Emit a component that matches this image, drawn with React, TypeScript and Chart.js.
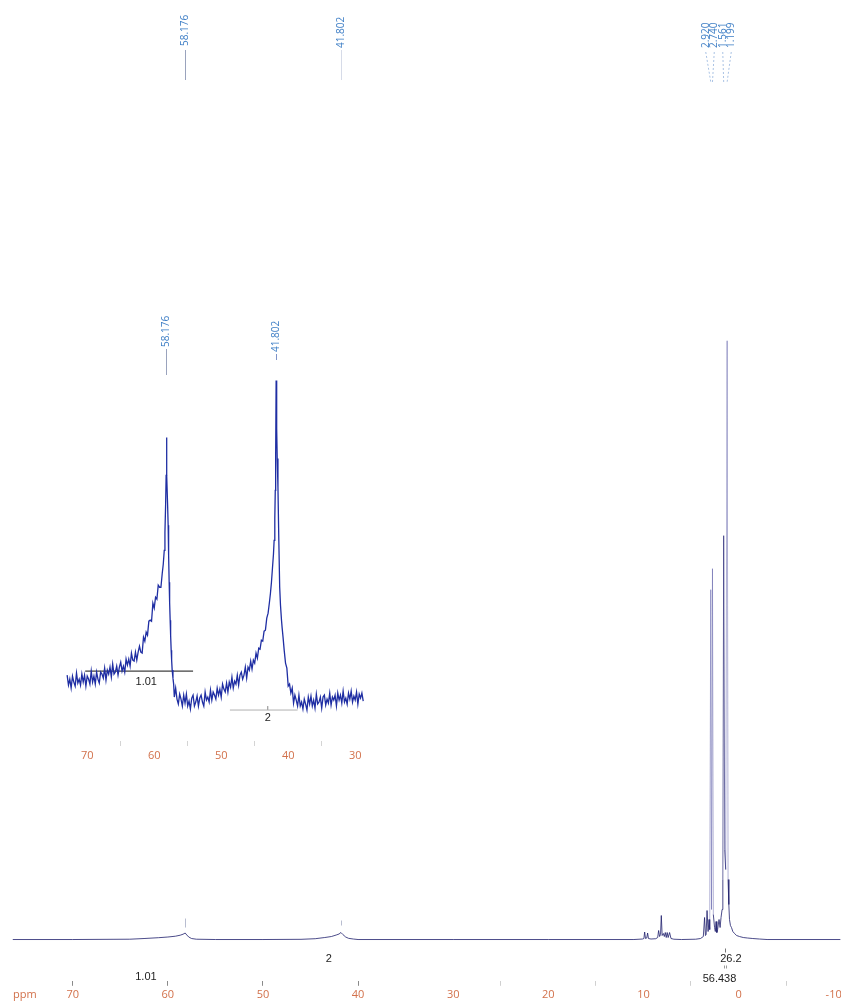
import React, { useEffect, useRef } from "react";
import { Chart, registerables } from "chart.js";
Chart.register(...registerables);

// ---------- main 1D spectrum (ppm / intensity) ----------
const mainPpm = [76.3, 70, 64, 62.5, 61, 60, 59.2, 58.7, 58.4, 58.176, 58.0, 57.8, 57.5, 57.0, 55, 50, 46, 44.5, 43.5, 42.8, 42.3, 42.0, 41.802, 41.6, 41.3, 41.0, 40.5, 40.0, 30, 20, 11, 10.1, 9.95, 9.87, 9.78, 9.65, 9.56, 9.47, 9.2, 8.7, 8.5, 8.4, 8.3, 8.2, 8.12, 8.03, 7.9, 7.8, 7.7, 7.6, 7.5, 7.4, 7.25, 7.1, 6.8, 6.0, 4.5, 4.0, 3.7, 3.57, 3.48, 3.41, 3.31, 3.2, 3.1, 3.03, 2.92, 2.84, 2.74, 2.65, 2.52, 2.44, 2.36, 2.28, 2.2, 2.05, 1.94, 1.84, 1.73, 1.65, 1.561, 1.45, 1.35, 1.199, 1.1, 1.02, 0.95, 0.85, 0.74, 0.6, 0.42, 0.2, -0.1, -0.5, -0.95, -1.5, -2.2, -3, -10.73];
const mainInt = [0, 0, 0.3, 1, 1.8, 2.5, 3.3, 4.3, 5.3, 6.5, 4.5, 2.5, 1, 0.3, 0, 0, 0.2, 0.8, 2, 3, 4.5, 5.5, 7, 5, 2.5, 1.2, 0.5, 0, 0, 0, 0, 0.5, 1, 7.5, 1, 1.5, 6.5, 1, 0.5, 0.8, 2, 9, 3, 5, 24, 4, 6, 3, 7, 2, 7, 2, 7, 1, 0.3, 0, 0.3, 1, 3, 22, 4, 5, 29, 8, 20, 10, 350, 30, 371, 25, 12, 8, 18, 7, 10, 20, 12, 22, 30, 60, 404, 90, 70, 599, 60, 35, 20, 14, 12, 8, 6, 4, 3, 2, 1.5, 1, 0.5, 0, 0];

const mainTicks = [70, 60, 50, 40, 30, 20, 10, 0, -10];
const mainPeakLabels = [58.176, 41.802];
const clusterPeakLabels = [2.92, 2.74, 1.561, 1.199];
const strongPeak = 1.561; // drawn with full colour in the reference
const mainIntegralText = ["1.01", "2", "26.2", "56.438"];
const mainIntegralPpm = [62.3, 43.07, 0.8, 2.0];
const mainIntegralLevel = [-37, -19, -19, -39];

// ---------- inset (expanded region 73 - 29 ppm) ----------
const insetPpm = [
  73.0, 72.8, 72.6, 72.4, 72.2, 72.0, 71.8, 71.6, 71.4, 71.2, 71.0, 70.8, 70.6, 70.4, 70.2, 70.0, 69.8, 69.6, 69.4, 69.2,
  69.0, 68.8, 68.6, 68.4, 68.2, 68.0, 67.8, 67.6, 67.4, 67.2, 67.0, 66.8, 66.6, 66.4, 66.2, 66.0, 65.8, 65.6, 65.4, 65.2,
  65.0, 64.8, 64.6, 64.4, 64.2, 64.0, 63.8, 63.6, 63.4, 63.2, 63.0, 62.8, 62.6, 62.4, 62.2, 62.0, 61.8, 61.6, 61.4, 61.2,
  61.0, 60.8, 60.6, 60.4, 60.2, 60.0, 59.8, 59.6, 59.4, 59.2, 59.0,
  58.8, 58.65, 58.5, 58.4, 58.3, 58.22, 58.176, 58.1, 58.0, 57.92, 57.85, 57.77, 57.7, 57.62, 57.55, 57.47, 57.4, 57.32, 57.2, 57.1,
  57.0, 56.8, 56.6, 56.4, 56.2, 56.0, 55.8, 55.6, 55.4, 55.2, 55.0, 54.8, 54.6, 54.4, 54.2, 54.0, 53.8, 53.6, 53.4, 53.2,
  53.0, 52.8, 52.6, 52.4, 52.2, 52.0, 51.8, 51.6, 51.4, 51.2, 51.0, 50.8, 50.6, 50.4, 50.2, 50.0, 49.8, 49.6, 49.4, 49.2,
  49.0, 48.8, 48.6, 48.4, 48.2, 48.0, 47.8, 47.6, 47.4, 47.2, 47.0, 46.8, 46.6, 46.4, 46.2, 46.0, 45.8, 45.6, 45.4, 45.2,
  45.0, 44.8, 44.6, 44.4, 44.2, 44.0, 43.8, 43.6, 43.4, 43.2, 43.0, 42.8,
  42.65, 42.5, 42.35, 42.2, 42.1, 42.0, 41.93, 41.87, 41.802, 41.72, 41.64, 41.53, 41.4, 41.27, 41.15, 41.0, 40.9, 40.77,
  40.6, 40.4, 40.2, 40.0, 39.8, 39.6, 39.4, 39.2, 39.0, 38.8, 38.6, 38.4, 38.2, 38.0, 37.8, 37.6, 37.4, 37.2, 37.0, 36.8,
  36.6, 36.4, 36.2, 36.0, 35.8, 35.6, 35.4, 35.2, 35.0, 34.8, 34.6, 34.4, 34.2, 34.0, 33.8, 33.6, 33.4, 33.2, 33.0, 32.8,
  32.6, 32.4, 32.2, 32.0, 31.8, 31.6, 31.4, 31.2, 31.0, 30.8, 30.6, 30.4, 30.2, 30.0, 29.8, 29.6, 29.4, 29.2, 29.0, 28.8,
];
const insetInt = [
  15, 5, 11, 2, 14, 8, 4, 17, 7, 11, 5, 16, 8, 15, 4, 14, 11, 6, 19, 8,
  14, 6, 18, 11, 7, 18, 16, 12, 22, 10, 20, 16, 23, 13, 26, 16, 18, 24, 15, 23,
  28, 19, 24, 18, 31, 25, 31, 24, 37, 30, 29, 38, 30, 38, 44, 38, 37, 53, 49, 58,
  55, 69, 70, 69, 87, 82, 93, 91, 105, 103, 103,
  117, 126, 140, 158, 185, 215, 253, 215, 185, 165, 135, 108, 88, 70, 55, 40, 30, 20, 12, 6,
  -7, 2, -9, -14, -4, -9, -16, -5, -13, -4, -16, -11, -19, -8, -5, -16, -12, -6, -16, -8,
  -5, -12, -16, -2, -10, -7, -12, 0, -10, -2, -5, -9, 2, -5, 1, -7, 6, 1, -2, 7,
  -2, 8, 3, 13, 2, 9, 6, 15, 5, 15, 18, 11, 15, 23, 12, 23, 20, 29, 21, 30,
  27, 37, 32, 42, 41, 50, 49, 59, 60, 72, 77, 88,
  97, 108, 122, 136, 150, 172, 200, 235, 310, 262, 232, 203, 150, 103, 85, 70, 62, 53,
  40, 27, 22, 4, 6, -3, 2, -13, -5, -10, -16, -5, -16, -12, -19, -9, -14, -20, -7, -14,
  -6, -16, -10, -18, -4, -14, -12, -7, -18, -7, -5, -15, -9, -13, -3, -15, -7, -10, -5, -16,
  -3, -10, -5, -13, -1, -12, -8, -14, -3, -9, -1, -12, -6, -10, -2, -14, -4, -8, -3, -11,
];

const insetTicks = [70, 60, 50, 40, 30];
const insetPeakLabels = [58.176, 41.802];
const insetIntegralText = ["1.01", "2"];
const insetIntegralPpm = [61.19, 43.05];
const insetIntegralLevel = [8, -28];
const insetIntegralRange1 = [70.3, 54.2];
const insetIntegralRange2 = [48.7, 38.6];

const TICK_COLOR = "#d2714b";
const LABEL_BLUE = "#3f7fc6";
const LINE_DARK = "#1e1e6c";
const LINE_FAINT = "rgba(60,60,150,0.5)";
const FONT = "'Open Sans', 'DejaVu Sans', sans-serif";
const MAIN_BASELINE_Y = 939.5;
const INSET_BASELINE_Y = 390;

function vText(ctx: CanvasRenderingContext2D, text: string, x: number, yBottom: number) {
  ctx.save();
  ctx.translate(x, yBottom);
  ctx.rotate(-Math.PI / 2);
  ctx.textAlign = "left";
  ctx.textBaseline = "middle";
  ctx.fillText(text, 0, 0);
  ctx.restore();
}

function line(ctx: CanvasRenderingContext2D, x1: number, y1: number, x2: number, y2: number, color: string, dash: number[] = []) {
  ctx.save();
  ctx.strokeStyle = color;
  ctx.lineWidth = 1;
  ctx.setLineDash(dash);
  ctx.beginPath();
  ctx.moveTo(x1, y1);
  ctx.lineTo(x2, y2);
  ctx.stroke();
  ctx.restore();
}

const mainDecor = {
  id: "mainDecor",
  afterDraw(chart: any) {
    const ctx: CanvasRenderingContext2D = chart.ctx;
    const xs = chart.scales.x;
    const ys = chart.scales.y;
    ctx.save();
    ctx.fillStyle = TICK_COLOR;
    ctx.font = `11px ${FONT}`;
    ctx.textAlign = "left";
    ctx.textBaseline = "middle";
    ctx.fillText("ppm", 13, 995);

    ctx.fillStyle = LABEL_BLUE;
    ctx.font = `10px ${FONT}`;
    mainPeakLabels.forEach((p, i) => {
      const x = Math.round(xs.getPixelForValue(p)) + 0.5;
      vText(ctx, p.toFixed(3), x, i === 0 ? 46 : 48);
      line(ctx, x, 50, x, 80, i === 0 ? "#9aa3bd" : "#d6dbe8");
      line(ctx, x, ys.getPixelForValue(i === 0 ? 21 : 19), x, ys.getPixelForValue(i === 0 ? 12 : 14), "#b8bdd0");
    });

    const px = clusterPeakLabels.map((p) => xs.getPixelForValue(p));
    const mean = px.reduce((a, b) => a + b, 0) / px.length;
    const gap = 8.5;
    clusterPeakLabels.forEach((p, i) => {
      const lx = mean + (i - (px.length - 1) / 2) * gap;
      ctx.fillStyle = LABEL_BLUE;
      vText(ctx, p.toFixed(3), lx, 48);
      line(ctx, lx, 52, px[i], 82, "#a9c2e4", [2, 2]);
    });

    ctx.fillStyle = "#222";
    ctx.font = `11px 'Liberation Sans', Arial, sans-serif`;
    ctx.textAlign = "center";
    ctx.textBaseline = "middle";
    mainIntegralText.forEach((t, i) => {
      ctx.fillText(t, xs.getPixelForValue(mainIntegralPpm[i]), ys.getPixelForValue(mainIntegralLevel[i]));
    });
    const m1 = Math.round(xs.getPixelForValue(1.4)) + 0.5;
    line(ctx, m1, ys.getPixelForValue(-9), m1, ys.getPixelForValue(-13), "#777");
    line(ctx, m1 - 1, ys.getPixelForValue(-26), m1 - 1, ys.getPixelForValue(-29), "#999");
    line(ctx, m1 + 1, ys.getPixelForValue(-26), m1 + 1, ys.getPixelForValue(-29), "#999");
    ctx.restore();
  },
};

const insetDecor = {
  id: "insetDecor",
  afterDraw(chart: any) {
    const ctx: CanvasRenderingContext2D = chart.ctx;
    const xs = chart.scales.x;
    const ys = chart.scales.y;
    ctx.save();
    ctx.fillStyle = LABEL_BLUE;
    ctx.font = `10px ${FONT}`;
    insetPeakLabels.forEach((p, i) => {
      const x = Math.round(xs.getPixelForValue(p)) + 0.5;
      const bottom = i === 0 ? 47 : 52;
      vText(ctx, p.toFixed(3), x, bottom);
      line(ctx, x, bottom + 2, x, i === 0 ? 75 : 60, i === 0 ? "#9aa3bd" : "#7f93c8");
    });
    ctx.fillStyle = "#222";
    ctx.font = `11px 'Liberation Sans', Arial, sans-serif`;
    ctx.textAlign = "center";
    ctx.textBaseline = "middle";
    insetIntegralText.forEach((t, i) => {
      ctx.fillText(t, xs.getPixelForValue(insetIntegralPpm[i]), ys.getPixelForValue(insetIntegralLevel[i]));
    });
    ctx.restore();
  },
};

function zeroPad(scale: any) {
  scale.paddingLeft = 0;
  scale.paddingRight = 0;
}

function fitY(chart: any, baseline: number) {
  const top = chart.chartArea.top;
  const bottom = chart.chartArea.bottom;
  chart.options.scales.y.max = baseline - top;
  chart.options.scales.y.min = baseline - bottom;
  chart.update();
}

export default function App() {
  const mainRef = useRef<HTMLCanvasElement>(null);
  const insetRef = useRef<HTMLCanvasElement>(null);

  useEffect(() => {
    Chart.defaults.font.family = FONT;
    const mainData = mainPpm.map((p, i) => ({ x: p, y: mainInt[i] }));
    const insetData = insetPpm.map((p, i) => ({ x: p, y: insetInt[i] }));

    const main = new Chart(mainRef.current!, {
      type: "line",
      data: {
        datasets: [
          {
            data: mainData,
            borderColor: LINE_DARK,
            borderWidth: 0.8,
            pointRadius: 0,
            tension: 0,
            fill: false,
            segment: {
              borderColor: (c: any) => {
                const steep = Math.abs(c.p1.parsed.y - c.p0.parsed.y) > 150;
                if (!steep) return LINE_DARK;
                const touchesStrong = c.p0.parsed.x === strongPeak || c.p1.parsed.x === strongPeak;
                return touchesStrong ? "rgba(40,40,120,0.85)" : LINE_FAINT;
              },
            },
          },
        ],
      },
      options: {
        responsive: false,
        animation: false,
        events: [],
        layout: { padding: { left: 0, right: 0, top: 0, bottom: 0 } },
        plugins: { legend: { display: false }, tooltip: { enabled: false } },
        scales: {
          x: {
            type: "linear",
            reverse: true,
            min: -10.73,
            max: 77.6,
            afterFit: zeroPad,
            border: { display: false },
            grid: {
              drawOnChartArea: false,
              drawTicks: true,
              tickLength: 5,
              color: (c: any) => {
                const v = c.tick ? c.tick.value : 0;
                if (v % 10 === 0) return v >= 40 ? "#8a8a8a" : "rgba(0,0,0,0)";
                return v < 30 ? "#d0d0d0" : "rgba(0,0,0,0)";
              },
            },
            ticks: {
              stepSize: 5,
              includeBounds: false,
              autoSkip: false,
              maxRotation: 0,
              padding: 2,
              color: TICK_COLOR,
              font: { size: 11, family: FONT },
              callback: (v: any) => (mainTicks.includes(Number(v)) ? String(v) : ""),
            },
          },
          y: { display: false, min: -41, max: 939 },
        },
      },
      plugins: [mainDecor],
    });
    fitY(main, MAIN_BASELINE_Y);

    const inset = new Chart(insetRef.current!, {
      type: "line",
      data: {
        datasets: [
          {
            data: insetData,
            borderColor: "#1f2ea3",
            borderWidth: 1.3,
            pointRadius: 0,
            tension: 0,
            fill: false,
          },
          {
            data: insetIntegralRange1.map((p) => ({ x: p, y: 19 })),
            borderColor: "#111",
            borderWidth: 1,
            pointRadius: 0,
          },
          {
            data: insetIntegralRange2.map((p) => ({ x: p, y: -20 })),
            borderColor: "#b0b0b0",
            borderWidth: 1,
            pointRadius: 0,
          },
          {
            data: [
              { x: 43.05, y: -20 },
              { x: 43.05, y: -16 },
            ],
            borderColor: "#888",
            borderWidth: 1,
            pointRadius: 0,
          },
        ],
      },
      options: {
        responsive: false,
        animation: false,
        events: [],
        layout: { padding: { left: 0, right: 0, top: 0, bottom: 4.8 } },
        plugins: { legend: { display: false }, tooltip: { enabled: false } },
        scales: {
          x: {
            type: "linear",
            reverse: true,
            min: 26.394,
            max: 76.952,
            afterFit: zeroPad,
            border: { display: false },
            grid: {
              drawOnChartArea: false,
              drawTicks: true,
              tickLength: 5,
              color: (c: any) => {
                const v = c.tick ? c.tick.value : 0;
                if (v < 30 || v > 70 || v % 10 === 0) return "rgba(0,0,0,0)";
                return "#d4d4d4";
              },
            },
            ticks: {
              stepSize: 5,
              includeBounds: false,
              autoSkip: false,
              maxRotation: 0,
              padding: 3,
              color: TICK_COLOR,
              font: { size: 11, family: FONT },
              callback: (v: any) => (insetTicks.includes(Number(v)) ? String(v) : ""),
            },
          },
          y: { display: false, min: -54, max: 390 },
        },
      },
      plugins: [insetDecor],
    });
    fitY(inset, INSET_BASELINE_Y);

    return () => {
      main.destroy();
      inset.destroy();
    };
  }, []);

  return (
    <div style={{ position: "absolute", left: 0, top: 0, width: 841, height: 1003, background: "#fff" }}>
      <canvas
        ref={mainRef}
        width={841}
        height={1003}
        style={{ position: "absolute", left: 0, top: 0, width: 841, height: 1003 }}
      />
      <canvas
        ref={insetRef}
        width={340}
        height={470}
        style={{ position: "absolute", left: 40, top: 300, width: 340, height: 470 }}
      />
    </div>
  );
}
